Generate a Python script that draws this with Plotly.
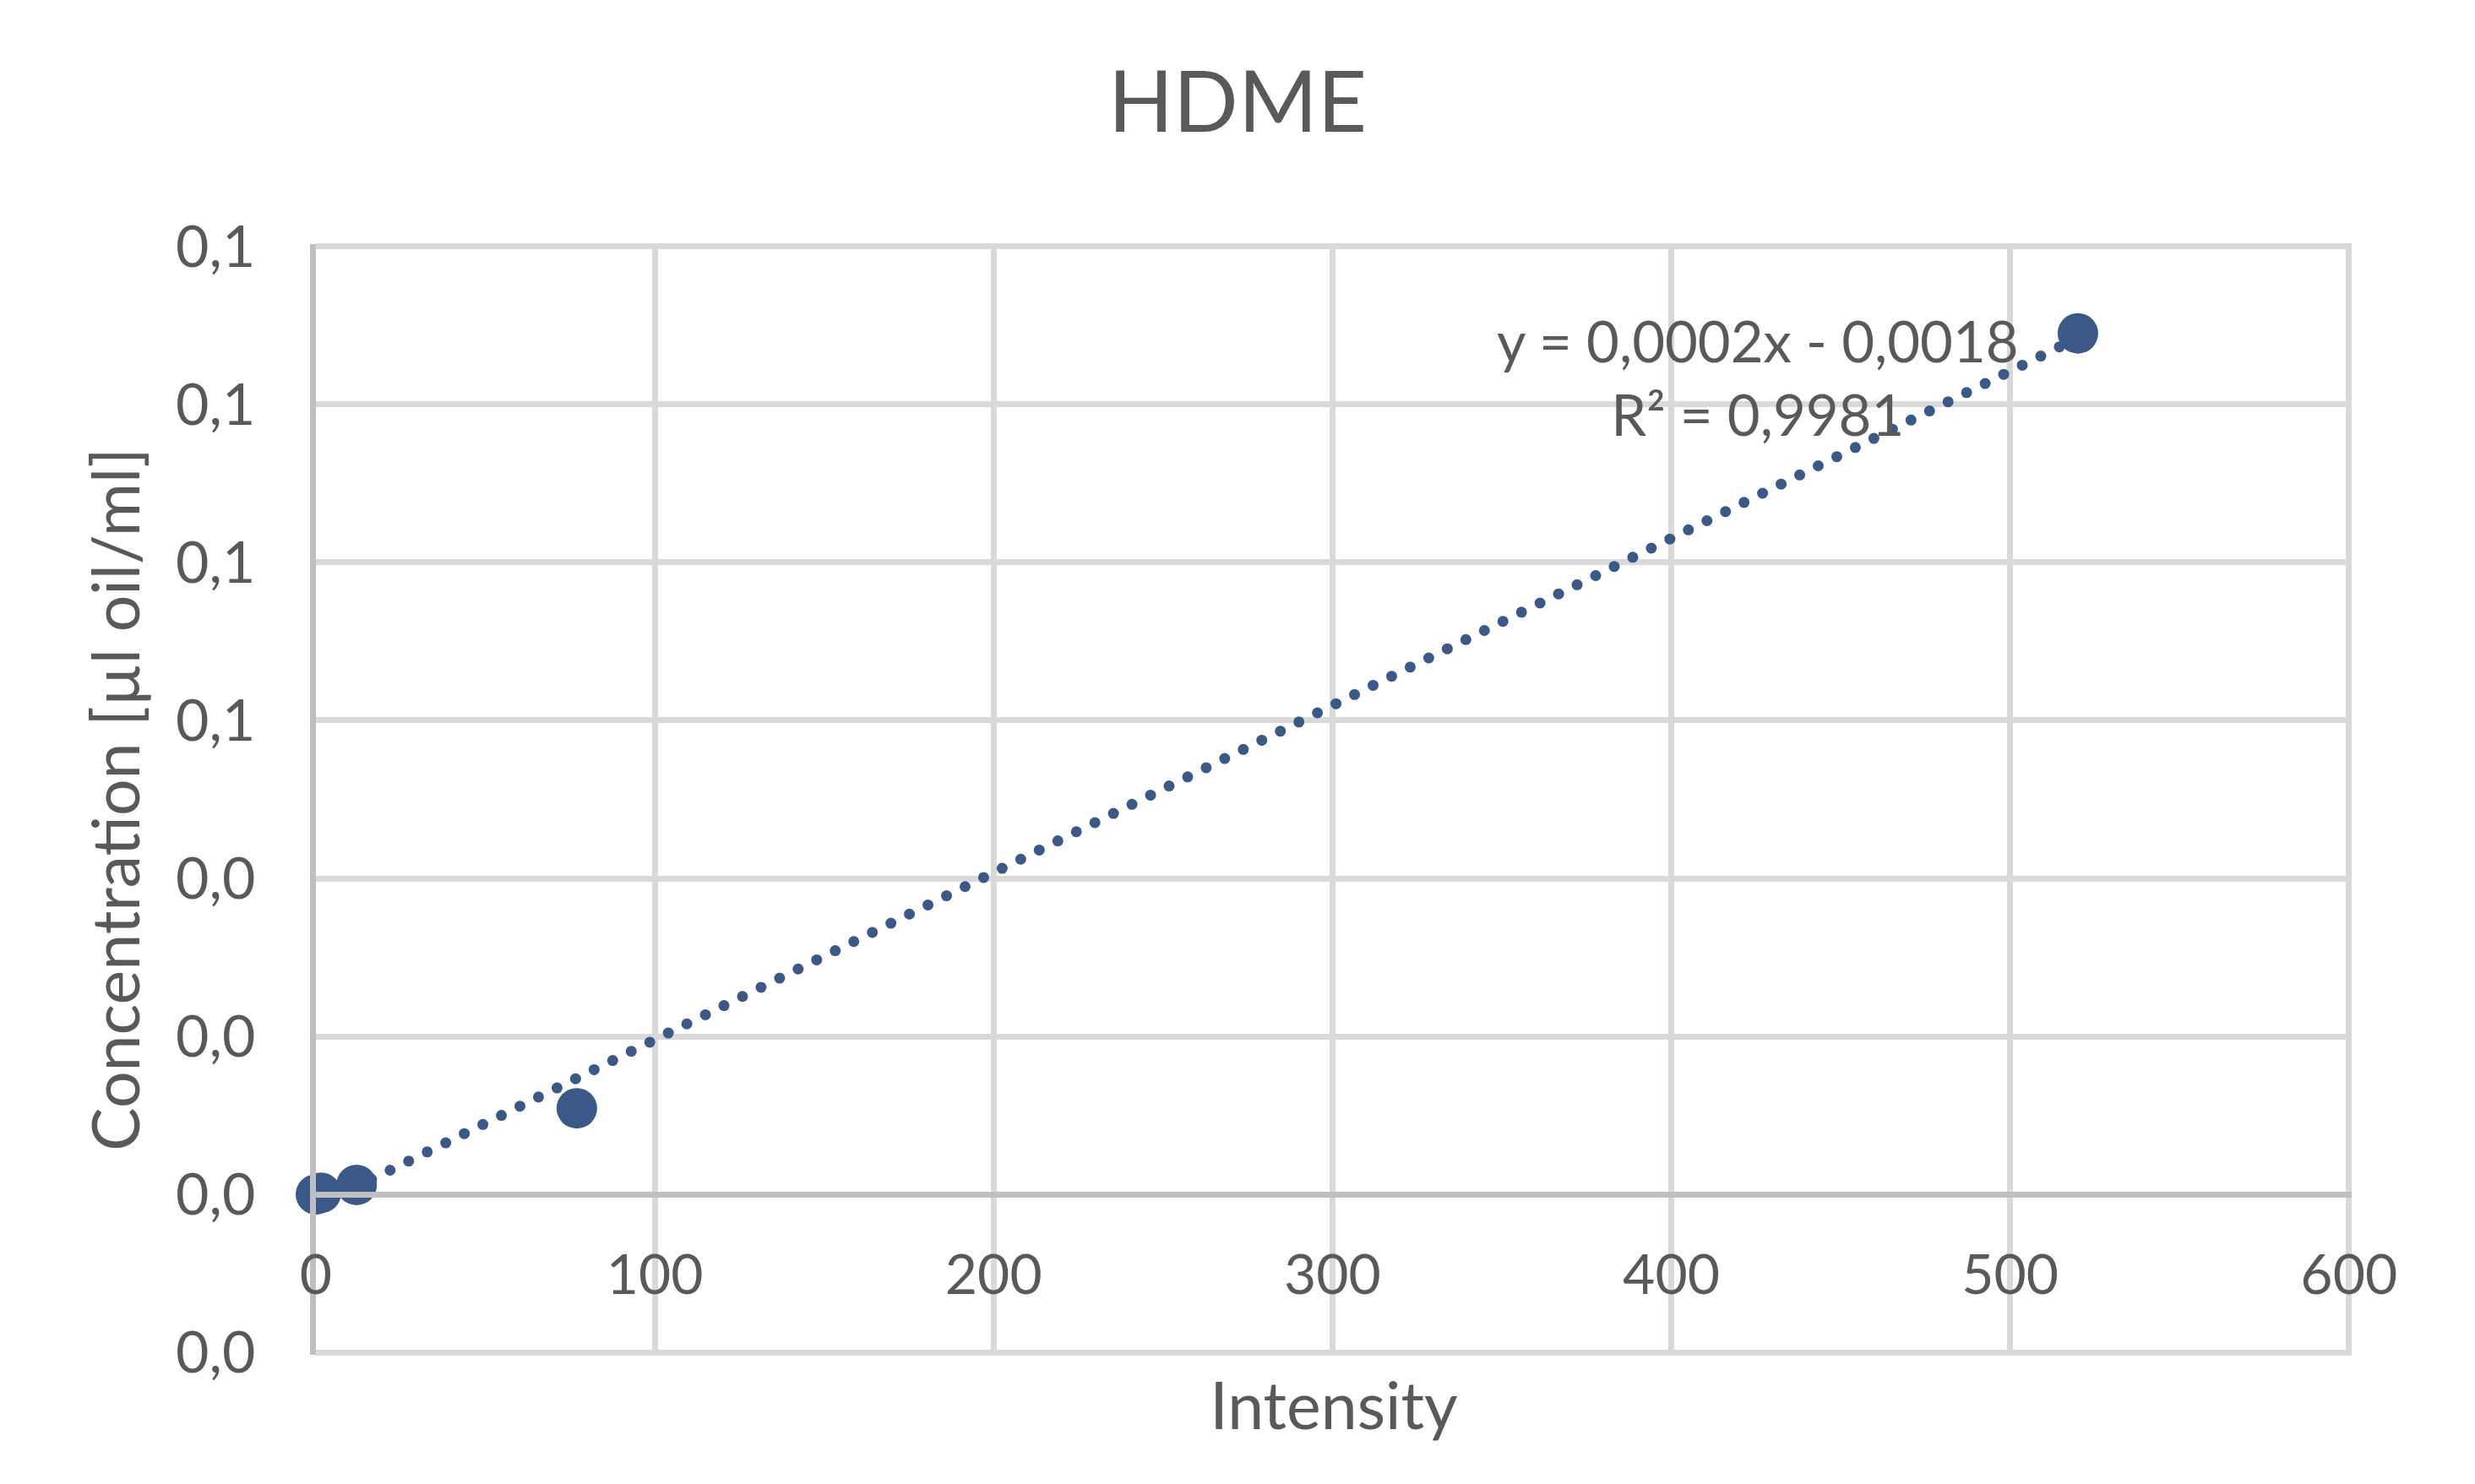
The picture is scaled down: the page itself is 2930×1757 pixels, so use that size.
import numpy as np
import plotly.graph_objects as go

# ---- data ----
intensity = [0.0, 1.5, 12.0, 77.0, 520.0]
concentration = [0.0, 0.0002, 0.0012, 0.0109, 0.109]

x_ticks = [0, 100, 200, 300, 400, 500, 600]
x_tick_labels = ["0", "100", "200", "300", "400", "500", "600"]
y_ticks = [-0.02, 0.0, 0.02, 0.04, 0.06, 0.08, 0.10, 0.12]
y_tick_labels = ["0,0", "0,0", "0,0", "0,0", "0,1", "0,1", "0,1", "0,1"]

title_text = "HDME"
x_title = "Intensity"
y_title = "Concentration [µl oil/ml]"
eq_text = "y = 0,0002x - 0,0018<br>R² = 0,9981"

# ---- style ----
FONT = "Lato"
TXT = "#595959"
BLUE = "#3A5888"
GRID = "#D9D9D9"
AXIS = "#BFBFBF"

# small padding so the border gridlines (at the range ends) are drawn
x_range = [0, 600.8]
y_range = [-0.0203, 0.1203]

# linear trendline (least squares) drawn as round dots
slope, intercept = np.polyfit(intensity, concentration, 1)
tx = np.linspace(min(intensity), max(intensity), 96)
ty = slope * tx + intercept

fig = go.Figure()
fig.add_trace(go.Scatter(
    x=tx, y=ty, mode="markers",
    marker=dict(size=13, color=BLUE, line=dict(width=0)),
    hoverinfo="skip", showlegend=False, cliponaxis=False,
))
fig.add_trace(go.Scatter(
    x=intensity, y=concentration, mode="markers",
    marker=dict(size=48, color=BLUE, line=dict(width=0)),
    showlegend=False, cliponaxis=False,
))

fig.update_layout(
    width=2930, height=1757,
    paper_bgcolor="white", plot_bgcolor="white",
    margin=dict(l=374, r=146, t=289, b=153),
    font=dict(family=FONT, color=TXT, size=66),
    title=dict(text=title_text, x=0.5, xanchor="center",
               y=1 - 121 / 1757, yanchor="middle", yref="container",
               font=dict(family=FONT, size=101, color=TXT)),
    xaxis=dict(
        range=x_range, tickvals=x_ticks, ticktext=x_tick_labels,
        showgrid=True, gridcolor=GRID, gridwidth=7,
        zeroline=False, showline=True, linecolor=AXIS, linewidth=7,
        anchor="free",
        position=(0 - y_range[0]) / (y_range[1] - y_range[0]),
        ticks="", ticklabelstandoff=35,
        tickfont=dict(family=FONT, size=66, color=TXT),
        title=dict(text=x_title, standoff=92,
                   font=dict(family=FONT, size=77, color=TXT)),
    ),
    yaxis=dict(
        range=y_range, tickvals=y_ticks, ticktext=y_tick_labels,
        showgrid=True, gridcolor=GRID, gridwidth=7,
        zeroline=False, showline=True, linecolor=AXIS, linewidth=7,
        ticks="", ticklabelstandoff=51,
        tickfont=dict(family=FONT, size=68, color=TXT),
        title=dict(text=y_title, standoff=20,
                   font=dict(family=FONT, size=77, color=TXT)),
    ),
    annotations=[dict(
        text=eq_text, x=425.5, y=0.1035, xref="x", yref="y",
        showarrow=False, align="center", xanchor="center", yanchor="middle",
        font=dict(family=FONT, size=67, color=TXT),
    )],
)

fig.write_html("out.html")
